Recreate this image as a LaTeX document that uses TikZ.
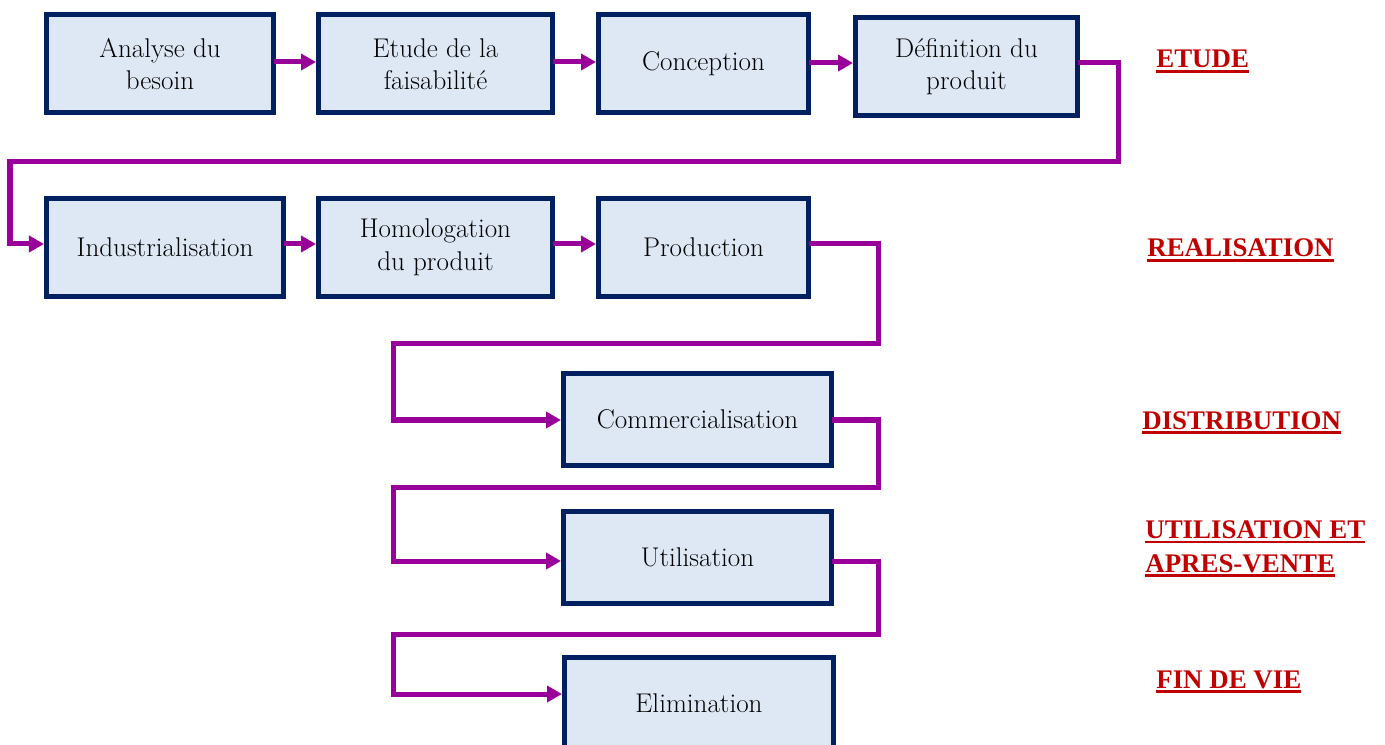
\documentclass[tikz,border=0pt]{standalone}
\usepackage{amsmath}
\usepackage{fontspec}
\usepackage{tikz}
\usetikzlibrary{arrows.meta}
\newfontfamily\phasefont{Liberation Serif}
\definecolor{boxfill}{RGB}{222,232,245}
\definecolor{boxline}{RGB}{0,32,96}
\definecolor{flowline}{RGB}{153,0,153}
\definecolor{phasered}{RGB}{192,0,0}
\newcommand{\phaseul}[1]{\setbox0\hbox{#1}\rlap{\rule[-2.6pt]{\wd0}{1.2pt}}\box0}

\begin{document}
\begin{tikzpicture}[cap=rect,>={Triangle[length=0.3cm,width=0.32cm]},
        stage/.style={draw=boxline,fill=boxfill,line width=0.1cm,align=center,
            minimum height=1.96cm,inner sep=2pt,
            font=\fontsize{15.4}{18.5}\selectfont},
        flow/.style={->,draw=flowline,line width=0.1cm},
        phase/.style={anchor=base west,text=phasered,align=left,inner sep=0pt,
            font=\phasefont\fontsize{15.3}{19.3}\selectfont\bfseries}]
        \useasboundingbox (0cm,0cm) rectangle (27.7cm,-14.9cm);
        % draw the stages
        \node[stage,minimum width=4.54cm] (besoin) at (3.2cm,-1.28cm) {Analyse du\\besoin};
        \node[stage,minimum width=4.68cm] (faisab) at (8.71cm,-1.28cm) {Etude de la\\faisabilit\'e};
        \node[stage,minimum width=4.2cm] (concep) at (14.07cm,-1.28cm) {Conception};
        \node[stage,minimum width=4.44cm] (defin) at (19.33cm,-1.33cm) {D\'efinition du\\produit};
        \node[stage,minimum width=4.74cm] (indus) at (3.3cm,-4.95cm) {Industrialisation};
        \node[stage,minimum width=4.68cm] (homol) at (8.71cm,-4.95cm) {Homologation\\du produit};
        \node[stage,minimum width=4.2cm] (prod) at (14.07cm,-4.95cm) {Production};
        \node[stage,minimum width=5.36cm,minimum height=1.84cm] (comm) at (13.95cm,-8.39cm) {Commercialisation};
        \node[stage,minimum width=5.36cm,minimum height=1.84cm] (util) at (13.95cm,-11.15cm) {Utilisation};
        \node[stage,minimum width=5.38cm,minimum height=1.84cm] (elim) at (13.98cm,-14.07cm) {Elimination};
        % draw the flow
        \draw[flow] (besoin.east |- 0cm,-1.24cm) -- (faisab.west |- 0cm,-1.24cm);
        \draw[flow] (faisab.east |- 0cm,-1.24cm) -- (concep.west |- 0cm,-1.24cm);
        \draw[flow] (concep.east |- 0cm,-1.26cm) -- (defin.west |- 0cm,-1.26cm);
        \draw[flow] (defin.east |- 0cm,-1.26cm) -| (22.36cm,-3.24cm) -| (0.2cm,-4.88cm) -- (indus.west |- 0cm,-4.88cm);
        \draw[flow] (indus.east |- 0cm,-4.88cm) -- (homol.west |- 0cm,-4.88cm);
        \draw[flow] (homol.east |- 0cm,-4.88cm) -- (prod.west |- 0cm,-4.88cm);
        \draw[flow] (prod.east |- 0cm,-4.88cm) -| (17.56cm,-6.88cm) -| (7.86cm,-8.4cm) -- (comm.west |- 0cm,-8.4cm);
        \draw[flow] (comm.east |- 0cm,-8.4cm) -| (17.56cm,-9.74cm) -| (7.86cm,-11.22cm) -- (util.west |- 0cm,-11.22cm);
        \draw[flow] (util.east |- 0cm,-11.22cm) -| (17.56cm,-12.68cm) -| (7.86cm,-13.88cm) -- (elim.west |- 0cm,-13.88cm);
        % draw the phases
        \node[phase] (etude) at (23.12cm,-1.36cm) {\phaseul{ETUDE}};
        \node[phase] (real) at (22.94cm,-5.14cm) {\phaseul{REALISATION}};
        \node[phase] (distr) at (22.84cm,-8.58cm) {\phaseul{DISTRIBUTION}};
        \node[phase] (apres) at (22.9cm,-11.44cm) {\phaseul{UTILISATION ET}\\\phaseul{APRES-VENTE}};
        \node[phase] (fin) at (23.12cm,-13.76cm) {\phaseul{FIN DE VIE}};
    \end{tikzpicture}
\end{document}
